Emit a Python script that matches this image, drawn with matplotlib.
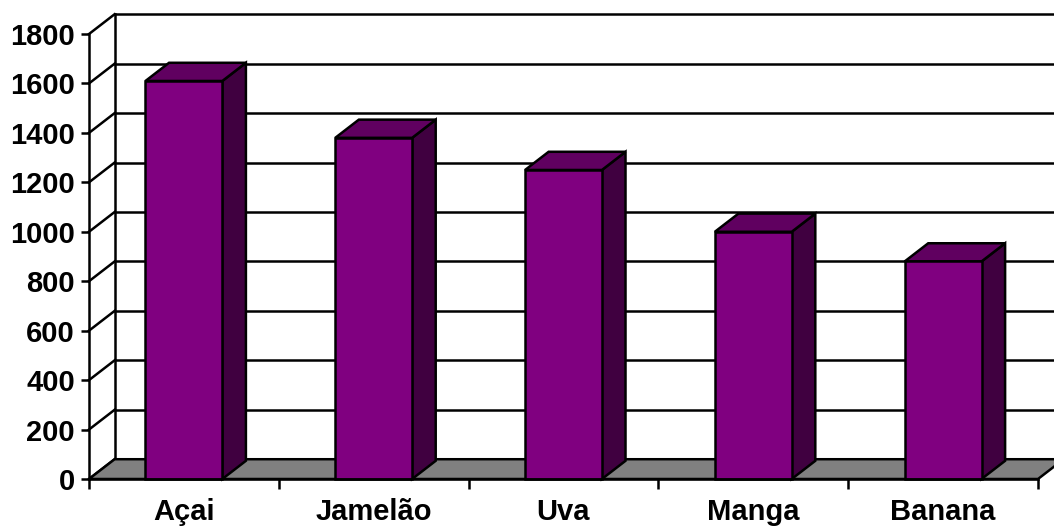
import numpy as np
import matplotlib.pyplot as plt
from matplotlib.patches import Polygon

# data
frutas = ['Açai', 'Jamelão', 'Uva', 'Manga', 'Banana']
valores = [1610, 1380, 1250, 1000, 880]
yticks = [0, 200, 400, 600, 800, 1000, 1200, 1400, 1600, 1800]

# pseudo 3d look (Excel style)
depth_x = 0.135      # in category units
depth_y = 80         # in value units
bar_w = 0.405
bar_depth = 0.92
col_front = '#800080'
col_top = '#600060'
col_side = '#400040'
floor_col = '#808080'
lw = 1.8

fig = plt.figure(figsize=(10.54, 5.32), dpi=100)
ax = fig.add_axes([89 / 1054, 53 / 532, 949 / 1054, 445 / 532])
n = len(frutas)
ax.set_xlim(0, n)
ax.set_ylim(0, 1800)

# back wall gridlines + diagonal lines on left wall
for v in yticks:
    ax.plot([0, depth_x], [v, v + depth_y], color='black', lw=lw, clip_on=False, zorder=2)
    if v > 0:
        ax.plot([depth_x, n + depth_x], [v + depth_y, v + depth_y], color='black', lw=lw,
                clip_on=False, zorder=1)
ax.plot([depth_x, depth_x], [depth_y, yticks[-1] + depth_y], color='black', lw=lw,
        clip_on=False, zorder=2)

# floor
floor = Polygon([(0, 0), (n, 0), (n + depth_x, depth_y), (depth_x, depth_y)],
                closed=True, facecolor=floor_col, edgecolor='black', lw=lw,
                clip_on=False, zorder=3)
ax.add_patch(floor)

# bars
bdx = depth_x * bar_depth
bdy = depth_y * bar_depth
for i, v in enumerate(valores):
    c = i + 0.5
    x0, x1 = c - bar_w / 2, c + bar_w / 2
    side = Polygon([(x1, 0), (x1 + bdx, bdy), (x1 + bdx, v + bdy), (x1, v)],
                   closed=True, facecolor=col_side, edgecolor='black', lw=lw,
                   clip_on=False, zorder=4 + i)
    top = Polygon([(x0, v), (x1, v), (x1 + bdx, v + bdy), (x0 + bdx, v + bdy)],
                  closed=True, facecolor=col_top, edgecolor='black', lw=lw,
                  clip_on=False, zorder=4 + i)
    front = Polygon([(x0, 0), (x1, 0), (x1, v), (x0, v)],
                    closed=True, facecolor=col_front, edgecolor='black', lw=lw,
                    clip_on=False, zorder=4 + i)
    ax.add_patch(side)
    ax.add_patch(top)
    ax.add_patch(front)

for s in ['top', 'right']:
    ax.spines[s].set_visible(False)
for s in ['left', 'bottom']:
    ax.spines[s].set_linewidth(lw)
    ax.spines[s].set_zorder(20)

ax.set_yticks(yticks)
ax.set_yticklabels([str(t) for t in yticks], fontsize=21, fontweight='bold',
                   family='Liberation Sans')
ax.tick_params(axis='y', direction='out', length=6, width=lw, pad=4)

ax.set_xticks(np.arange(n + 1))
ax.set_xticklabels([])
ax.set_xticks(np.arange(n) + 0.5, minor=True)
ax.set_xticklabels(frutas, minor=True, fontsize=21, fontweight='bold',
                   family='Liberation Sans')
ax.tick_params(axis='x', which='major', direction='out', length=7, width=lw)
ax.tick_params(axis='x', which='minor', length=0, pad=14)

ax.patch.set_visible(False)
fig.savefig('out.png', dpi=100)
